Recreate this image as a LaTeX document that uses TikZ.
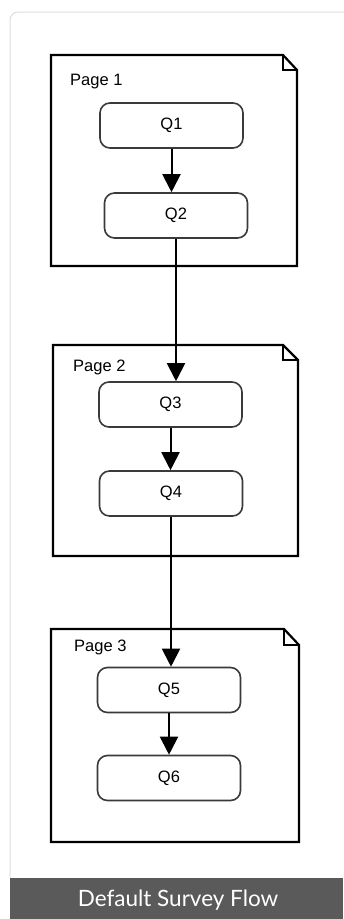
\documentclass[tikz,border=0pt]{standalone}
\usepackage{fontspec}
\setmainfont{Liberation Sans}
\newfontfamily\footfont{Lato}
\usetikzlibrary{arrows.meta}
\definecolor{cardline}{HTML}{DDDDDD}
\definecolor{footgray}{HTML}{5A5A5A}
\definecolor{boxline}{HTML}{3A3A3A}

\begin{document}
\begin{tikzpicture}[x=1pt,y=-1pt,
  question/.style={draw=boxline,line width=1.6pt,rounded corners=10pt,minimum width=143pt,minimum height=45pt,inner sep=0pt,font=\fontsize{16.5}{18}\selectfont},
  pagebox/.style={draw=black,line width=2.2pt,line join=miter},
  pagelabel/.style={anchor=base west,inner sep=0pt,font=\fontsize{16.5}{18}\selectfont},
  flow/.style={line width=2pt,-{Triangle[length=18pt,width=18pt]}}]
  \useasboundingbox (0,0) rectangle (343,919);
  % card and footer
  \draw[cardline,line width=1pt,rounded corners=8pt] (10,878) -- (10,12) -- (350,12);
  \fill[footgray] (10,878) rectangle (343,919);
  \node[text=white,font=\footfont\fontsize{22.5}{26}\selectfont] (footer) at (178,900) {Default Survey Flow};
  % pages
  \draw[pagebox] (51,55) -- (283,55) -- (297,70) -- (297,266) -- (51,266) -- cycle;
  \draw[pagebox,line width=1.4pt] (283,55) -- (283,70) -- (297,70);
  \draw[pagebox] (53,345) -- (283,345) -- (298,360) -- (298,556) -- (53,556) -- cycle;
  \draw[pagebox,line width=1.4pt] (283,345) -- (283,360) -- (298,360);
  \draw[pagebox] (51,629) -- (284,629) -- (299,645) -- (299,842) -- (51,842) -- cycle;
  \draw[pagebox,line width=1.4pt] (284,629) -- (284,645) -- (299,645);
  \node[pagelabel] (page1) at (70,85) {Page 1};
  \node[pagelabel] (page2) at (73,371) {Page 2};
  \node[pagelabel] (page3) at (74,651) {Page 3};
  % questions
  \node[question] (Q1) at (171.5,125.5) {Q1};
  \node[question] (Q2) at (176,215.5) {Q2};
  \node[question] (Q3) at (170.5,404.5) {Q3};
  \node[question] (Q4) at (171,493.5) {Q4};
  \node[question] (Q5) at (169,690) {Q5};
  \node[question] (Q6) at (169,778) {Q6};
  % connectors
  \draw[flow] (Q1.south) -- (Q1.south |- Q2.north);
  \draw[flow] (Q2.south) -- (Q2.south |- Q3.north);
  \draw[flow] (Q3.south) -- (Q3.south |- Q4.north);
  \draw[flow] (Q4.south) -- (Q4.south |- Q5.north);
  \draw[flow] (Q5.south) -- (Q5.south |- Q6.north);
\end{tikzpicture}
\end{document}
